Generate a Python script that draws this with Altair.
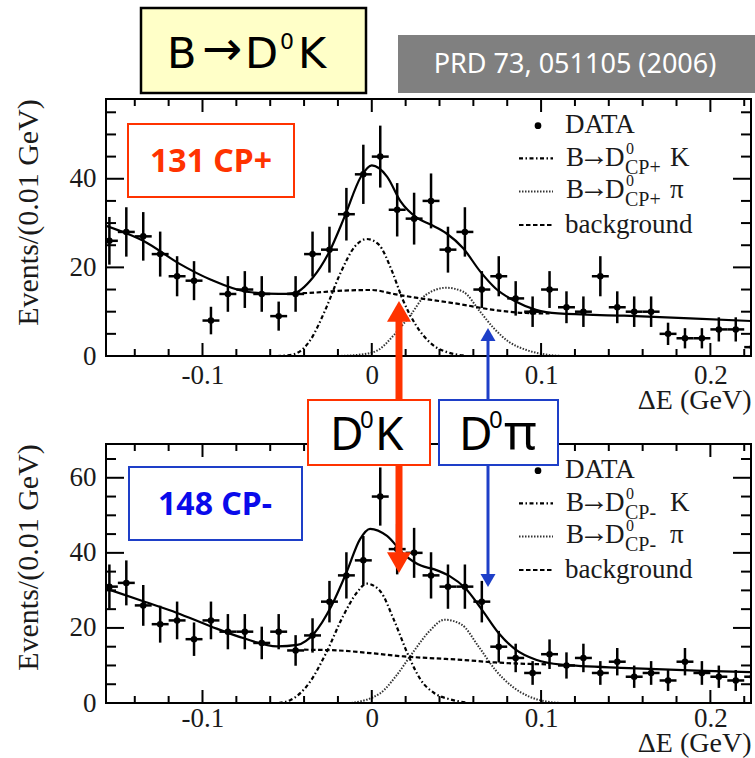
import altair as alt
import pandas as pd

# ---------------- data ----------------
BIN_CENTRES = [-0.155, -0.145, -0.135, -0.125, -0.115, -0.105, -0.095, -0.085, -0.075, -0.065,
               -0.055, -0.045, -0.035, -0.025, -0.015, -0.005, 0.005, 0.015, 0.025, 0.035,
               0.045, 0.055, 0.065, 0.075, 0.085, 0.095, 0.105, 0.115, 0.125, 0.135,
               0.145, 0.155, 0.165, 0.175, 0.185, 0.195, 0.205, 0.215, 0.225]
CP_PLUS_COUNTS = [26, 28, 27, 23, 18, 17, 8, 14, 15, 14,
                  9, 14, 23, 24, 32, 41, 45, 33, 31, 35,
                  24, 28, 15, 18, 13, 10, 15, 11, 10, 18,
                  11, 10, 10, 5, 4, 4, 6, 6, 2]
CP_MINUS_COUNTS = [31, 32, 26, 21, 22, 17, 22, 19, 19, 16,
                   19, 14, 18, 27, 34, 38, 55, 41, 40, 34,
                   31, 31, 27, 15, 12, 8, 13, 10, 12, 8,
                   11, 7, 8, 6, 11, 8, 7, 6, 7]

TOP_FIT_X = [-0.157, -0.145, -0.134, -0.114, -0.095, -0.074, -0.055, -0.046, -0.035, -0.025, -0.016,
             -0.0065, 0.0, 0.009, 0.017, 0.027, 0.035, 0.044, 0.054, 0.064, 0.073, 0.085, 0.097,
             0.110, 0.149, 0.188, 0.224]
TOP_FIT_Y = [29.4, 27.7, 25.8, 20.9, 17.2, 14.5, 14.0, 14.2, 17.6, 23.6, 31.5,
             40.4, 43.0, 40.5, 34.9, 31.1, 29.6, 27.7, 24.3, 19.1, 15.3, 12.3, 10.4,
             9.6, 9.1, 8.5, 7.9]
TOP_K_X = [-0.056, -0.047, -0.037, -0.027, -0.019, -0.010, -0.003, 0.004, 0.012, 0.018, 0.026, 0.036, 0.045, 0.055]
TOP_K_Y = [0.0, 0.3, 3.2, 10.8, 18.3, 24.7, 26.4, 25.2, 19.1, 13.0, 7.0, 2.5, 0.8, 0.1]
TOP_PI_X = [-0.020, -0.005, 0.004, 0.013, 0.023, 0.032, 0.044, 0.054, 0.064, 0.072, 0.081, 0.091, 0.100, 0.112]
TOP_PI_Y = [0.0, 0.4, 1.4, 4.7, 9.3, 13.8, 15.4, 14.5, 10.0, 6.3, 3.2, 1.4, 0.5, 0.0]
TOP_BG_X = [-0.045, -0.030, -0.020, 0.000, 0.013, 0.027, 0.040, 0.052, 0.072, 0.091, 0.105]
TOP_BG_Y = [14.1, 14.4, 14.7, 14.9, 14.0, 13.1, 12.4, 11.7, 10.4, 9.7, 9.6]

BOT_FIT_X = [-0.157, -0.135, -0.115, -0.095, -0.076, -0.056, -0.044, -0.034, -0.024, -0.015, -0.007,
             -0.001, 0.009, 0.019, 0.029, 0.037, 0.046, 0.055, 0.065, 0.075, 0.085, 0.097, 0.112,
             0.152, 0.192, 0.224]
BOT_FIT_Y = [30.5, 27.1, 24.0, 20.4, 17.3, 15.1, 15.5, 18.6, 25.7, 34.7, 43.6,
             46.4, 44.5, 39.6, 36.6, 35.6, 33.8, 30.7, 24.9, 18.6, 14.2, 11.5, 10.2,
             9.3, 8.6, 8.2]
BOT_K_X = [-0.055, -0.048, -0.037, -0.027, -0.017, -0.009, -0.003, 0.005, 0.013, 0.021, 0.029, 0.037, 0.046, 0.056]
BOT_K_Y = [0.0, 0.8, 5.3, 13.3, 23.1, 29.3, 31.8, 29.8, 22.2, 13.3, 6.1, 2.6, 1.0, 0.1]
BOT_PI_X = [-0.012, 0.005, 0.014, 0.024, 0.034, 0.043, 0.053, 0.063, 0.073, 0.083, 0.093, 0.103, 0.112]
BOT_PI_Y = [0.0, 2.6, 7.0, 13.3, 19.1, 22.2, 20.9, 15.1, 8.8, 4.4, 1.7, 0.4, 0.0]
BOT_BG_X = [-0.040, -0.020, -0.001, 0.019, 0.037, 0.053, 0.073, 0.093, 0.105]
BOT_BG_Y = [14.2, 14.0, 13.3, 12.4, 11.9, 11.5, 10.8, 10.4, 10.3]

X_LABELS = [-0.1, 0, 0.1, 0.2]
X_MAJOR = [-0.1, 0.0, 0.1, 0.2]
X_MINOR = [-0.14, -0.12, -0.08, -0.06, -0.04, -0.02, 0.02, 0.04, 0.06, 0.08, 0.12, 0.14, 0.16, 0.18, 0.22]
TOP_Y_LABELS = [0, 20, 40]
TOP_Y_MAJOR = [20, 40]
TOP_Y_MINOR = [5, 10, 15, 25, 30, 35, 45, 50, 55]
BOT_Y_LABELS = [0, 20, 40, 60]
BOT_Y_MAJOR = [20, 40, 60]
BOT_Y_MINOR = [5, 10, 15, 25, 30, 35, 45, 50, 55, 65]

# ---------------- styling ----------------
W = 645
H_TOP = 257
H_BOT = 259
SERIF = "Liberation Serif"
SANS = "Noto Sans"
WIDE = "DejaVu Sans"
RED = "#FF3300"
BLUE = "#1E3FC8"
BLUE_TXT = "#0A0AEB"
INK = "#1a1a1a"
XSCALE = alt.Scale(domain=[-0.157, 0.224], nice=False, zero=False)


def one():
    return pd.DataFrame({"k": [0]})


def box(x0, x1, y0, y1, fill, stroke, sw, **kw):
    return alt.Chart(one()).mark_rect(fill=fill, stroke=stroke, strokeWidth=sw, **kw).encode(
        x=alt.value(x0), x2=alt.value(x1), y=alt.value(y0), y2=alt.value(y1))


def txt(x, y, s, **kw):
    return alt.Chart(one()).mark_text(**kw).encode(x=alt.value(x), y=alt.value(y), text=alt.value(s))


def vrule(x, y0, y1, color, w):
    return alt.Chart(one()).mark_rule(color=color, strokeWidth=w).encode(
        x=alt.value(x), y=alt.value(y0), y2=alt.value(y1))


def head(x, y, shape, size, color):
    return alt.Chart(one()).mark_point(shape=shape, size=size, filled=True, color=color, opacity=1).encode(
        x=alt.value(x), y=alt.value(y))


K_DASH = [4, 2.5, 1.5, 2.5]
PI_DASH = [1.5, 1.5]
PI_COLOR = "#333333"
BG_DASH = [4.5, 2.5]


def ltxt(x, y, s, size=27, font=SERIF, align="left"):
    return txt(x, y, s, font=font, fontSize=size, color=INK, align=align, baseline="alphabetic")


def legend(tag):
    lay = []
    lay.append(alt.Chart(one()).mark_circle(size=45, color="black", opacity=1).encode(
        x=alt.value(432), y=alt.value(26.7)))
    lay.append(ltxt(459, 34.3, "DATA"))
    rows = [(59.3, 67, K_DASH, "black", 2.2, "K"), (92.5, 99, PI_DASH, PI_COLOR, 2.0, "π")]
    for ly, by, dash, col, sw, end in rows:
        lay.append(alt.Chart(one()).mark_rule(color=col, strokeWidth=sw, strokeDash=dash).encode(
            x=alt.value(413), x2=alt.value(447), y=alt.value(ly)))
        lay.append(ltxt(460, by, "B"))
        lay.append(ltxt(488, by - 1, "→", size=30, align="center"))
        lay.append(ltxt(499, by, "D"))
        lay.append(ltxt(520, by - 12, "0", size=16))
        lay.append(ltxt(519, by + 8, tag, size=20))
        lay.append(ltxt(564, by, end))
    lay.append(alt.Chart(one()).mark_rule(color="black", strokeWidth=2.2, strokeDash=BG_DASH).encode(
        x=alt.value(413), x2=alt.value(447), y=alt.value(126)))
    lay.append(ltxt(459, 133.5, "background"))
    return lay


def panel(counts, fit, kc, pic, bgc, ymax, H, ylabels, ymajor, yminor, xtitle_y, xlab_pad, tag, extras):
    ys = alt.Scale(domain=[0, ymax], nice=False, zero=False)
    xaxis = alt.Axis(values=X_LABELS, labelExpr="toString(datum.value)", ticks=False, tickSize=0,
                     domain=False, grid=False, labelFont=SERIF, labelFontSize=27, labelColor=INK,
                     labelPadding=xlab_pad, labelFlush=False, labelOverlap=False,
                     title="ΔE (GeV)", titleFont=SERIF, titleFontSize=28, titleFontWeight="normal",
                     titleColor=INK, titleX=W, titleY=xtitle_y, titleAlign="right",
                     titleBaseline="middle", titleAngle=0)
    yaxis = alt.Axis(values=ylabels, format="d", ticks=False, tickSize=0, domain=False, grid=False,
                     labelFont=SERIF, labelFontSize=27, labelColor=INK, labelPadding=10,
                     labelFlush=False, labelOverlap=False,
                     title="Events/(0.01 GeV)", titleFont=SERIF, titleFontSize=30,
                     titleFontWeight="normal", titleColor=INK, titleX=-78, titleY=113,
                     titleAlign="center", titleBaseline="middle", titleAngle=270)

    def X(f):
        return alt.X(f, type="quantitative", scale=XSCALE, axis=xaxis)

    def Y(f):
        return alt.Y(f, type="quantitative", scale=ys, axis=yaxis)

    df = pd.DataFrame({"de": BIN_CENTRES, "n": counts})
    base = alt.Chart(df).transform_calculate(
        lo="datum.n - sqrt(datum.n)", hi="datum.n + sqrt(datum.n)",
        xl="datum.de - 0.005", xh="datum.de + 0.005")
    vbar = base.mark_rule(color="black", strokeWidth=2.5, strokeCap="square", clip=True).encode(
        x=X("de"), y=Y("lo"), y2="hi:Q")
    hbar = base.mark_rule(color="black", strokeWidth=2.5, clip=True).encode(x=X("xl"), x2="xh:Q", y=Y("n"))
    dots = base.mark_circle(size=42, color="black", opacity=1, clip=True).encode(x=X("de"), y=Y("n"))

    def curve(xs_, ys_, **style):
        return alt.Chart(pd.DataFrame({"de": xs_, "v": ys_})).mark_line(
            interpolate="monotone", clip=True, **style).encode(x=X("de"), y=Y("v"))

    c_k = curve(kc[0], kc[1], color="black", strokeWidth=2.2, strokeDash=K_DASH)
    c_pi = curve(pic[0], pic[1], color=PI_COLOR, strokeWidth=2.0, strokeDash=PI_DASH)
    c_bg = curve(bgc[0], bgc[1], color="black", strokeWidth=2.2, strokeDash=BG_DASH)
    c_fit = curve(fit[0], fit[1], color="black", strokeWidth=2.2)

    def xt(vals, bottom, L):
        y0, y1 = (H, H - L) if bottom else (0, L)
        return alt.Chart(pd.DataFrame({"t": vals})).mark_rule(color="black", strokeWidth=2).encode(
            x=X("t"), y=alt.value(y0), y2=alt.value(y1))

    def yt(vals, left, L):
        x0, x1 = (0, L) if left else (W, W - L)
        return alt.Chart(pd.DataFrame({"t": vals})).mark_rule(color="black", strokeWidth=2).encode(
            y=Y("t"), x=alt.value(x0), x2=alt.value(x1))

    ticks = [xt(X_MINOR, True, 7), xt(X_MAJOR, True, 13), xt(X_MINOR, False, 7), xt(X_MAJOR, False, 13),
             yt(yminor, True, 10), yt(ymajor, True, 18), yt(yminor, False, 10), yt(ymajor, False, 18)]
    frame = box(0, W, 0, H, "white", "black", 2, fillOpacity=0)

    layers = [c_k, c_pi, c_bg, c_fit, vbar, hbar, dots] + ticks + [frame] + legend(tag) + extras
    return alt.layer(*layers).properties(width=W, height=H)


def big(x, y, s, size, color="black", font=SANS, align="left", weight="normal"):
    return txt(x, y, s, font=font, fontSize=size, color=color, align=align, baseline="alphabetic",
               fontWeight=weight)


# ---------------- annotations ----------------
top_extras = [
    box(-106, 649, -99, 659, "white", "white", 0, opacity=0),
    box(35, 260, -91, -6, "#FFFFC8", "black", 2.5),
    big(61, -31, "B", 43, font=WIDE),
    big(116, -34, "→", 48, font=WIDE, align="center"),
    big(139, -31, "D", 43, font=WIDE),
    big(174, -50, "0", 22, font=WIDE),
    big(192, -31, "K", 43, font=WIDE),
    box(292, 649, -64, -6, "#808080", "#808080", 0),
    txt(469, -34, "PRD 73, 051105 (2006)", font=SANS, fontSize=27, color="white", align="center", baseline="middle"),
    box(22, 188, 25, 98, "white", RED, 2),
    txt(105, 63, "131 CP+", font=SANS, fontSize=32, fontWeight="bold", color=RED, align="center", baseline="middle"),
]

bot_extras = [
    box(23, 196, 23, 96, "white", BLUE, 2),
    txt(109, 61, "148 CP-", font=SANS, fontSize=32, fontWeight="bold", color=BLUE_TXT, align="center", baseline="middle"),
    vrule(293, -44, -123, RED, 7),
    head(293, -132.6, "triangle-up", 576, RED),
    vrule(293, 21, 110, RED, 7),
    head(293, 118.6, "triangle-down", 576, RED),
    vrule(382, -44, -106, BLUE, 3),
    head(382, -109.5, "triangle-up", 225, BLUE),
    vrule(382, 21, 132, BLUE, 3),
    head(382, 136.5, "triangle-down", 225, BLUE),
    box(202, 324, -44, 21, "white", RED, 2),
    box(333, 452, -44, 21, "white", BLUE, 2),
    big(224, 6, "D", 46),
    big(254, -16, "0", 24),
    big(269, 6, "K", 46),
    big(353, 6, "D", 46),
    big(383, -16, "0", 24),
    big(398, 6, "π", 50),
]

top = panel(CP_PLUS_COUNTS, (TOP_FIT_X, TOP_FIT_Y), (TOP_K_X, TOP_K_Y), (TOP_PI_X, TOP_PI_Y),
            (TOP_BG_X, TOP_BG_Y), 58, H_TOP, TOP_Y_LABELS, TOP_Y_MAJOR, TOP_Y_MINOR, 44, 6, "CP+", top_extras)
bottom = panel(CP_MINUS_COUNTS, (BOT_FIT_X, BOT_FIT_Y), (BOT_K_X, BOT_K_Y), (BOT_PI_X, BOT_PI_Y),
               (BOT_BG_X, BOT_BG_Y), 69, H_BOT, BOT_Y_LABELS, BOT_Y_MAJOR, BOT_Y_MINOR, 40, 2, "CP-", bot_extras)

chart = alt.vconcat(top, bottom, spacing=88, bounds="flush").properties(
    padding=0, background="white"
).configure_view(stroke=None)

chart.save("out.html", embed_options={"renderer": "svg", "actions": False})
